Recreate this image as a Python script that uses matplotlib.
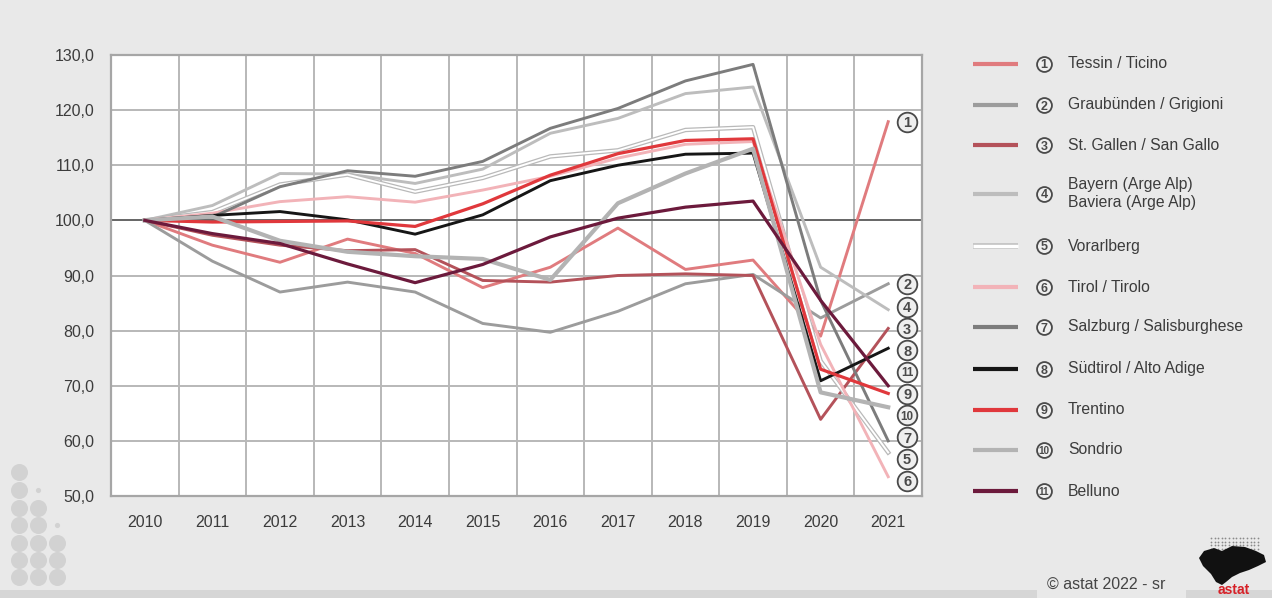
import matplotlib
matplotlib.use('Agg')
import matplotlib.pyplot as plt
import matplotlib.patheffects as pe
import numpy as np
from matplotlib.patches import Rectangle, Polygon

# ---- data (index, 2010 = 100) ----
years = ['2010', '2011', '2012', '2013', '2014', '2015',
         '2016', '2017', '2018', '2019', '2020', '2021']

tessin      = [100, 95.5, 92.4, 96.6, 94.0, 87.8, 91.5, 98.6, 91.1, 92.8, 79.0, 117.9]
graubuenden = [100, 92.6, 87.0, 88.8, 87.0, 81.3, 79.7, 83.5, 88.5, 90.2, 82.3, 88.5]
stgallen    = [100, 97.3, 95.5, 94.5, 94.7, 89.1, 88.8, 90.0, 90.3, 90.0, 63.9, 80.4]
bayern      = [100, 102.7, 108.5, 108.4, 106.7, 109.3, 115.8, 118.5, 123.0, 124.2, 91.5, 83.8]
vorarlberg  = [100, 101.5, 106.5, 108.3, 105.2, 107.7, 111.6, 112.7, 116.4, 116.9, 74.5, 57.9]
tirol       = [100, 101.3, 103.4, 104.3, 103.3, 105.5, 108.0, 111.3, 113.8, 114.3, 77.5, 53.5]
salzburg    = [100, 100.6, 106.1, 109.0, 108.0, 110.7, 116.7, 120.3, 125.3, 128.3, 85.5, 60.0]
suedtirol   = [100, 100.9, 101.6, 100.1, 97.5, 101.0, 107.2, 110.0, 112.0, 112.2, 70.9, 76.8]
trentino    = [100, 99.7, 99.8, 99.9, 98.9, 103.0, 108.2, 112.1, 114.5, 114.8, 73.0, 68.6]
sondrio     = [100, 100.7, 96.3, 94.3, 93.5, 93.0, 89.2, 103.1, 108.5, 113.0, 68.8, 66.1]
belluno     = [100, 97.6, 95.8, 92.1, 88.7, 92.0, 97.0, 100.4, 102.4, 103.5, 85.5, 70.0]

series = [tessin, graubuenden, stgallen, bayern, vorarlberg, tirol,
          salzburg, suedtirol, trentino, sondrio, belluno]
names = ['Tessin / Ticino', 'Graubünden / Grigioni', 'St. Gallen / San Gallo',
         'Bayern (Arge Alp)\nBaviera (Arge Alp)', 'Vorarlberg', 'Tirol / Tirolo',
         'Salzburg / Salisburghese', 'Südtirol / Alto Adige', 'Trentino',
         'Sondrio', 'Belluno']
colors = ['#e07b7e', '#9c9c9c', '#b4525a', '#bdbdbd', '#ffffff', '#f2b3b8',
          '#7c7c7c', '#161616', '#e0383c', '#b3b3b3', '#6c1a3c']
widths = [2.1, 2.1, 2.1, 2.1, 1.4, 2.1, 2.1, 2.1, 2.3, 3.0, 2.3]

yticks = [50, 60, 70, 80, 90, 100, 110, 120, 130]

# ---- figure ----
W, H = 1272, 598
BG = '#e9e9e9'
TXT = '#3c3c3c'
plt.rcParams['font.family'] = ['Liberation Sans', 'DejaVu Sans']

fig = plt.figure(figsize=(W / 100, H / 100), dpi=100, facecolor=BG)

deco = fig.add_axes([0, 0, 1, 1], zorder=0)
deco.set_xlim(0, W)
deco.set_ylim(H, 0)
deco.axis('off')

ax = fig.add_axes([111 / W, 1 - 496 / H, (922 - 111) / W, (496 - 55) / H], zorder=1)
ax.set_facecolor('white')

x = np.arange(len(years))
ax.set_xlim(-0.5, len(years) - 0.5)
ax.set_ylim(50, 130)

# grid: vertical lines between the year columns, horizontal every 10
ax.set_xticks(x)
ax.set_xticklabels(years)
ax.set_xticks(np.arange(-0.5, len(years)), minor=True)
ax.set_yticks(yticks)
ax.set_yticklabels([f'{v:.1f}'.replace('.', ',') for v in yticks])
ax.grid(which='minor', axis='x', color='#b8b8b8', lw=1.4)
ax.grid(which='major', axis='y', color='#b8b8b8', lw=1.4)
ax.grid(which='major', axis='x', visible=False)
ax.tick_params(which='both', length=0)
ax.tick_params(axis='x', pad=14, labelsize=11.5, labelcolor=TXT)
ax.tick_params(axis='y', pad=12, labelsize=11.5, labelcolor=TXT)
ax.set_axisbelow(True)
for sp in ax.spines.values():
    sp.set_color('#a6a6a6')
    sp.set_linewidth(1.6)
ax.axhline(100, color='#5a5a5a', lw=1.2, zorder=1.5)

for vals, col, lw, name in zip(series, colors, widths, names):
    if name == 'Vorarlberg':
        ax.plot(x, vals, color=col, lw=lw, zorder=2, solid_joinstyle='round',
                path_effects=[pe.Stroke(linewidth=lw + 1.8, foreground='#b9b9b9'), pe.Normal()])
    else:
        ax.plot(x, vals, color=col, lw=lw, zorder=2, solid_joinstyle='round')


def circled(axis, cx, cy, num, s, fs, **kw):
    axis.scatter([cx], [cy], s=s, facecolor='#efefef', edgecolor='#4a4a4a',
                 linewidth=1.3, zorder=6, clip_on=False, **kw)
    axis.text(cx, cy, str(num), ha='center', va='center_baseline',
              fontsize=fs if num < 10 else fs * 0.8, fontweight='bold',
              color='#4a4a4a', zorder=7, clip_on=False, **kw)


# end-of-line number tags, spread apart so they don't overlap
ends = np.array([v[-1] for v in series], dtype=float)
order = np.argsort(-ends)
pos = ends[order].copy()
gap = 3.95
for _ in range(400):
    for i in range(len(pos) - 1):
        d = pos[i] - pos[i + 1]
        if d < gap:
            shift = (gap - d) / 2
            pos[i] += shift
            pos[i + 1] -= shift
tag_y = np.empty_like(pos)
tag_y[order] = pos
for i, ty in enumerate(tag_y):
    circled(ax, x[-1] + 0.28, ty, i + 1, 200, 10.5)

# ---- legend ----
leg_y = [64, 105, 145, 194, 246, 287, 327, 369, 410, 450, 491]
for i, (ly, col, name) in enumerate(zip(leg_y, colors, names)):
    if name == 'Vorarlberg':
        deco.plot([973, 1018], [ly, ly], color=col, lw=2.4, solid_capstyle='butt',
                  path_effects=[pe.Stroke(linewidth=4.2, foreground='#c4c4c4'), pe.Normal()])
    else:
        deco.plot([973, 1018], [ly, ly], color=col, lw=3.0, solid_capstyle='butt')
    circled(deco, 1044, ly, i + 1, 115, 9)
    deco.text(1068, ly, name, ha='left', va='center', fontsize=11.3,
              color=TXT, linespacing=1.25)

# ---- decoration: dot pattern bottom left ----
rows = [472, 490, 508, 525, 543, 560, 577]
cols = [19, 38, 57]
for ci, cx in enumerate(cols):
    start = [0, 2, 4][ci]
    deco.scatter([cx] * (len(rows) - start), rows[start:], s=150,
                 color='#d2d2d2', linewidths=0)
deco.scatter([38, 57], [490, 525], s=14, color='#d2d2d2', linewidths=0)

# bottom band and copyright
deco.add_patch(Rectangle((0, 590), 1037, 8, color='#d6d6d6', lw=0))
deco.add_patch(Rectangle((1186, 590), 86, 8, color='#d6d6d6', lw=0))
deco.text(1047, 584, '© astat 2022 - sr', ha='left', va='center',
          fontsize=11.5, color='#454545')

# logo
gx, gy = np.meshgrid(np.arange(1211, 1259, 3.6), np.arange(538, 552, 3.6))
deco.scatter(gx.ravel(), gy.ravel(), s=1.6, color='#8a8a8a', linewidths=0)
deco.add_patch(Polygon([(1199, 558), (1204, 551), (1214, 548), (1222, 551), (1232, 546),
                        (1245, 547), (1256, 551), (1264, 555), (1266, 562), (1258, 566),
                        (1249, 570), (1240, 573), (1232, 577), (1226, 582), (1222, 585),
                        (1216, 582), (1211, 574), (1203, 566)],
                       closed=True, color='#111111', lw=0))
deco.text(1234, 597, 'astat', ha='center', va='bottom', fontsize=10,
          fontweight='bold', color='#d62027')

fig.savefig('out.png', dpi=100, facecolor=BG)
